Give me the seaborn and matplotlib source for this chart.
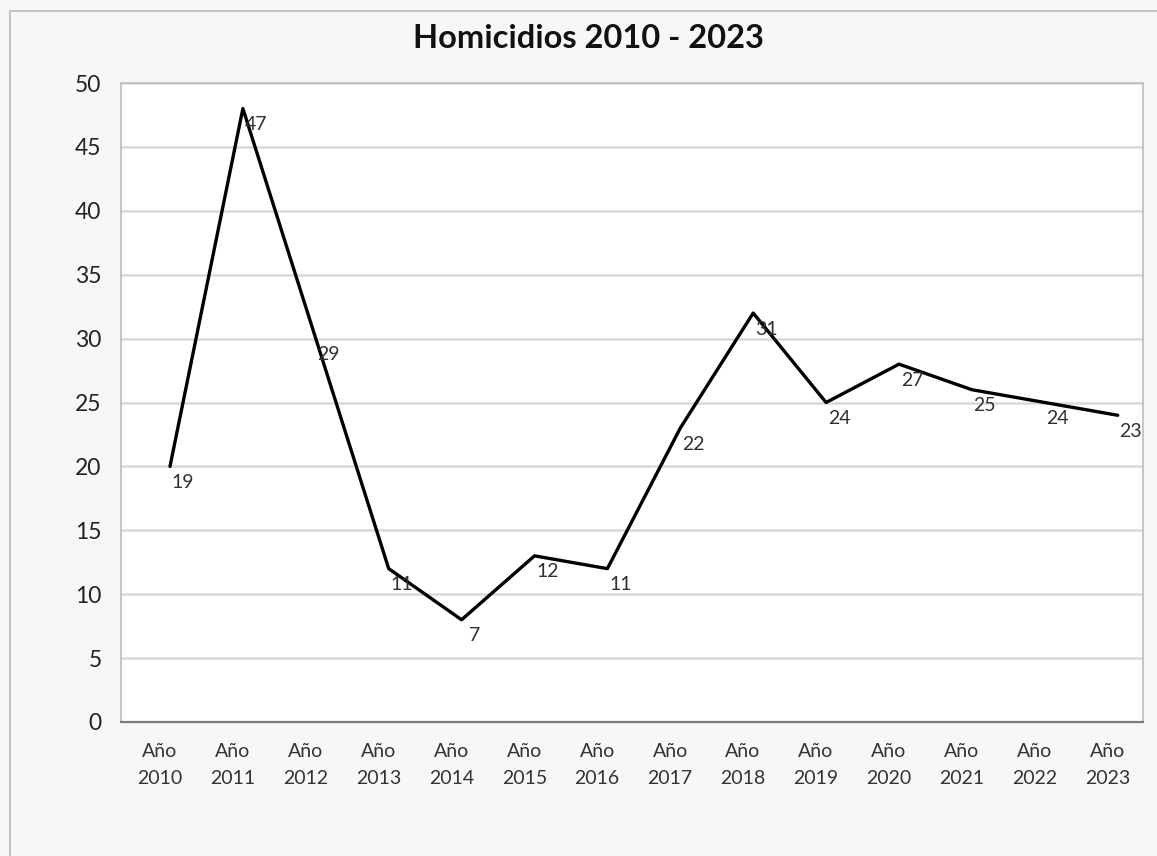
import matplotlib
matplotlib.use("Agg")
import matplotlib.pyplot as plt
import seaborn as sns
import numpy as np
from matplotlib.patches import Rectangle

years = ["2010", "2011", "2012", "2013", "2014", "2015", "2016",
         "2017", "2018", "2019", "2020", "2021", "2022", "2023"]
tick_labels = ["Año\n" + y for y in years]
values = [20, 48, 30, 12, 8, 13, 12, 23, 32, 25, 28, 26, 25, 24]
point_labels = [19, 47, 29, 11, 7, 12, 11, 22, 31, 24, 27, 25, 24, 23]
y_ticks = [0, 5, 10, 15, 20, 25, 30, 35, 40, 45, 50]

sns.set_theme(style="white")
plt.rcParams['font.family'] = ['Lato', 'DejaVu Sans']

W, H = 1157, 856
fig = plt.figure(figsize=(W / 100, H / 100), dpi=100)
fig.patch.set_facecolor("#f7f7f7")

# outer frame
fig.patches.append(Rectangle((10 / W, -0.01), 1.0, 1 - 11 / H + 0.01,
                             transform=fig.transFigure, fill=False,
                             edgecolor="#c4c4c4", linewidth=1.5))

ax = fig.add_axes([121 / W, 1 - 722 / H, (1143 - 121) / W, (722 - 83) / H])
ax.set_facecolor("white")

idx = np.arange(len(years))
sns.lineplot(x=idx, y=values, ax=ax, color="black", linewidth=2.4, zorder=3)

for i, (v, lab) in enumerate(zip(values, point_labels)):
    ax.annotate(str(lab), (i, v), xytext=(13, -16), textcoords="offset pixels",
                ha="center", va="center", fontsize=14, color="#303030", zorder=4)

ax.set_xlim(-0.672, 13.347)
ax.set_ylim(0, 50)
ax.set_yticks(y_ticks)
ax.set_yticklabels([str(t) for t in y_ticks], fontsize=16.5, color="#222222")
ax.set_xticks(idx - 0.14)
ax.set_xticklabels(tick_labels, fontsize=14, color="#333333", linespacing=1.75)
ax.tick_params(axis="y", length=0, pad=14)
ax.tick_params(axis="x", length=0, pad=15)

ax.grid(axis="y", color="#d9d9d9", linewidth=1.8)
ax.grid(axis="x", visible=False)
ax.set_axisbelow(True)
for s in ["top", "right", "left"]:
    ax.spines[s].set_color("#bdbdbd")
    ax.spines[s].set_linewidth(1.2)
ax.spines["bottom"].set_color("#7a7a7a")
ax.spines["bottom"].set_linewidth(1.6)

fig.text(588 / W, 1 - 38 / H, "Homicidios 2010 - 2023", ha="center", va="center",
         fontsize=23.5, fontweight="bold", color="#111111")

fig.savefig("out.png", dpi=100, facecolor=fig.get_facecolor())
